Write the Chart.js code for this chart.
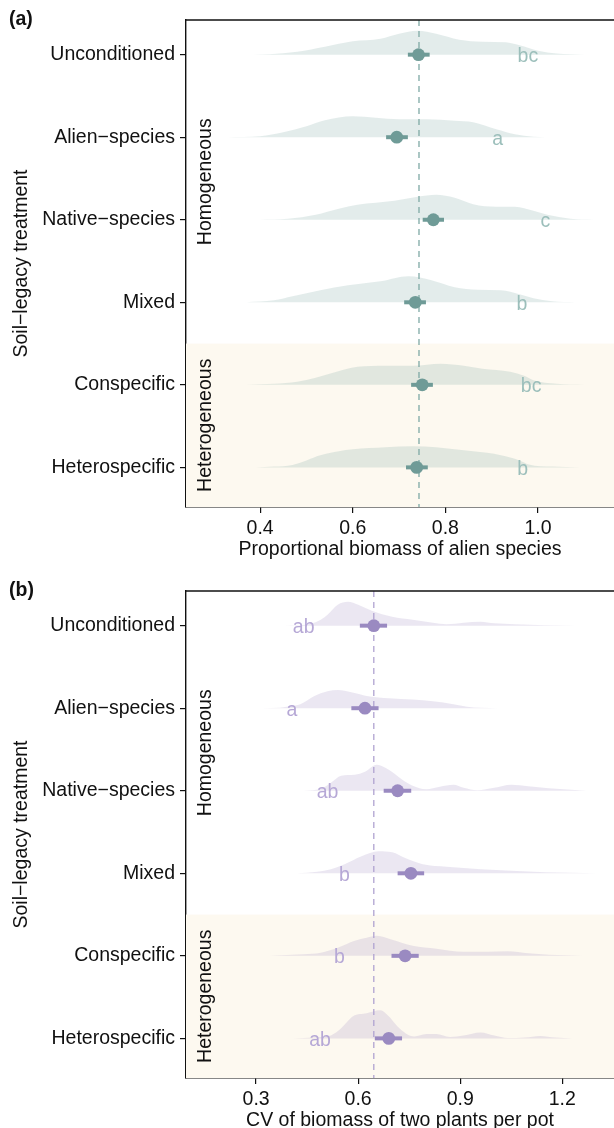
<!DOCTYPE html>
<html lang="en">
<head>
<meta charset="UTF-8">
<title>Soil-legacy treatment ridges</title>
<script src="https://cdn.jsdelivr.net/npm/chart.js"></script>
<style>
    html, body { margin: 0; padding: 0; background: #fff; overflow: hidden; }
    .wrap { position: relative; width: 614px; height: 1128px; }
    .panel { position: absolute; left: 0; width: 614px; height: 580px; }
    #panelA { top: 0; }
    #panelB { top: 571px; }
</style>
</head>
<body>
<div class="wrap">
    <canvas id="panelA" class="panel" width="614" height="580"></canvas>
    <canvas id="panelB" class="panel" width="614" height="580"></canvas>
</div>
<script>
// rows, top to bottom
const treatments = ['Unconditioned', 'Alien\u2212species', 'Native\u2212species', 'Mixed', 'Conspecific', 'Heterospecific'];
const groupNames = ['Homogeneous', 'Heterogeneous'];
const groupBreak = 3.5;   // heterogeneous rows start below this

// (a) proportional biomass of alien species
const biomassTicks = [0.4, 0.6, 0.8, 1.0];
const biomassMean = [0.742, 0.695, 0.774, 0.735, 0.750, 0.738];
const biomassLow = [0.719, 0.672, 0.751, 0.711, 0.726, 0.715];
const biomassHigh = [0.766, 0.719, 0.797, 0.758, 0.773, 0.762];
const biomassLetters = ['bc', 'a', 'c', 'b', 'bc', 'b'];
const biomassLetterAt = [0.978, 0.913, 1.016, 0.965, 0.985, 0.967];
const biomassOverall = 0.743;
const biomassDensX = [
    [0.35, 0.42, 0.48, 0.54, 0.60, 0.66, 0.70, 0.74, 0.78, 0.83, 0.88, 0.93, 0.96, 1.00, 1.04, 1.10],
    [0.33, 0.40, 0.45, 0.50, 0.54, 0.60, 0.65, 0.70, 0.76, 0.82, 0.86, 0.91, 0.95, 0.99, 1.04],
    [0.40, 0.46, 0.52, 0.57, 0.61, 0.69, 0.74, 0.78, 0.82, 0.86, 0.91, 0.95, 0.99, 1.02, 1.07, 1.12],
    [0.37, 0.43, 0.47, 0.53, 0.59, 0.66, 0.72, 0.77, 0.82, 0.87, 0.92, 0.96, 0.99, 1.03, 1.08],
    [0.37, 0.43, 0.48, 0.52, 0.55, 0.61, 0.67, 0.73, 0.79, 0.84, 0.88, 0.94, 0.97, 0.99, 1.04, 1.10],
    [0.39, 0.43, 0.47, 0.50, 0.53, 0.57, 0.60, 0.67, 0.73, 0.78, 0.84, 0.89, 0.92, 0.96, 0.98, 1.03, 1.09]
];
const biomassDens = [
    [0, 0.5, 3, 8, 13.5, 16, 21, 24, 21, 15, 13, 12.5, 9.5, 4, 1.2, 0],
    [0, 1, 5, 11, 17, 21, 19.5, 18, 18, 16.5, 15, 8, 3, 0.5, 0],
    [0, 1, 5, 11, 15, 19, 23, 25, 22, 15.5, 13, 13, 9, 5, 1, 0],
    [0, 2, 6, 12, 17, 21, 26, 22, 15, 12.5, 12, 8, 4, 1, 0],
    [0, 1, 3, 7, 11, 18, 19, 19, 21, 19, 16, 13, 9, 4.5, 1, 0],
    [0, 0.8, 2.5, 7, 12, 16, 18, 20, 21, 20, 17, 14.5, 12, 7, 3, 0.8, 0]
];

// (b) CV of biomass of two plants per pot
const cvTicks = [0.3, 0.6, 0.9, 1.2];
const cvMean = [0.646, 0.620, 0.716, 0.755, 0.738, 0.690];
const cvLow = [0.605, 0.580, 0.675, 0.716, 0.698, 0.649];
const cvHigh = [0.685, 0.660, 0.756, 0.794, 0.778, 0.729];
const cvLetters = ['ab', 'a', 'ab', 'b', 'b', 'ab'];
const cvLetterAt = [0.440, 0.405, 0.510, 0.560, 0.545, 0.488];
const cvOverall = 0.646;
const cvDensX = [
    [0.34, 0.43, 0.46, 0.49, 0.51, 0.54, 0.57, 0.60, 0.64, 0.70, 0.76, 0.82, 0.86, 0.91, 0.96, 1.00, 1.06, 1.15, 1.24],
    [0.32, 0.37, 0.40, 0.43, 0.47, 0.51, 0.54, 0.58, 0.63, 0.69, 0.76, 0.82, 0.88, 0.92, 0.96, 1.01],
    [0.44, 0.49, 0.52, 0.55, 0.59, 0.62, 0.655, 0.69, 0.73, 0.76, 0.80, 0.84, 0.88, 0.91, 0.95, 1.00, 1.05, 1.10, 1.16, 1.27],
    [0.42, 0.48, 0.52, 0.56, 0.61, 0.66, 0.70, 0.74, 0.79, 0.86, 0.96, 1.05, 1.15, 1.30],
    [0.34, 0.44, 0.49, 0.54, 0.59, 0.625, 0.655, 0.70, 0.76, 0.83, 0.91, 0.98, 1.04, 1.10, 1.16, 1.26],
    [0.41, 0.47, 0.52, 0.55, 0.585, 0.625, 0.665, 0.69, 0.715, 0.74, 0.765, 0.80, 0.83, 0.87, 0.91, 0.96, 1.00, 1.04, 1.09, 1.135, 1.18, 1.23]
];
const cvDens = [
    [0, 0.5, 2, 6, 11, 21, 24, 21, 15, 9, 6, 3, 1.5, 3, 4, 2.3, 1.5, 0.5, 0],
    [0, 0.5, 2, 4, 12, 17, 18.3, 16, 12, 10, 8.7, 7, 4, 1.5, 0.5, 0],
    [0, 2, 8, 15, 16, 19, 26, 21, 11, 5, 1.5, 4, 6, 3, 0.5, 3, 6, 4.5, 2.5, 0],
    [0, 1.5, 4, 9, 17, 22, 21, 15, 9, 6.5, 4, 2.5, 1, 0],
    [0, 1.5, 3, 8, 15, 18, 20, 16, 10, 7, 4, 4, 4.5, 2.5, 1, 0],
    [0, 1, 3, 10, 22, 25, 28, 22, 12, 5, 2, 4.5, 4.5, 1.5, 3, 6, 3, 0.5, 1, 2.5, 0.8, 0]
];

const Y_MIN = -0.42;
const Y_MAX = 5.48;
const RIDGE_SCALE = 82.5;   // density units per row
const FONT = '"Liberation Sans", Arial, Helvetica, sans-serif';
const INK = '#111';

Chart.defaults.font.family = FONT;
Chart.defaults.color = INK;

function drawPanel(id, p) {
    const decor = {
        id: 'decor',
        beforeDatasetsDraw(chart) {
            const { ctx, chartArea: a, scales: { y } } = chart;
            const top = y.getPixelForValue(groupBreak);
            ctx.save();
            ctx.fillStyle = '#fdf9f0';
            ctx.fillRect(a.left, top, a.right - a.left, a.bottom - top);
            ctx.restore();
        },
        afterDatasetsDraw(chart) {
            const { ctx, chartArea: a, scales: { x, y } } = chart;
            ctx.save();
            ctx.font = '19.5px ' + FONT;
            ctx.fillStyle = p.letterColor;
            ctx.textAlign = 'center';
            ctx.textBaseline = 'alphabetic';
            p.letters.forEach((t, i) => {
                ctx.fillText(t, x.getPixelForValue(p.letterAt[i]), y.getPixelForValue(i) + 7.5);
            });

            // group labels
            const brk = y.getPixelForValue(groupBreak);
            const centres = [(a.top + brk) / 2, (brk + a.bottom) / 2];
            ctx.fillStyle = INK;
            ctx.textBaseline = 'middle';
            groupNames.forEach((g, k) => {
                ctx.save();
                ctx.translate(a.left + 19.5, centres[k]);
                ctx.rotate(-Math.PI / 2);
                ctx.fillText(g, 0, 0);
                ctx.restore();
            });

            // top frame line
            ctx.strokeStyle = INK;
            ctx.lineWidth = 1.4;
            ctx.beginPath();
            ctx.moveTo(a.left, a.top);
            ctx.lineTo(a.right, a.top);
            ctx.stroke();

            // panel tag
            ctx.font = 'bold 19.5px ' + FONT;
            ctx.textAlign = 'left';
            ctx.textBaseline = 'alphabetic';
            ctx.fillText(p.tag, 9, 25);
            ctx.restore();
        }
    };

    const datasets = [];
    p.densX.forEach((xs, i) => {
        datasets.push({
            type: 'line',
            data: xs.map((v, k) => ({ x: v, y: i - p.dens[i][k] / RIDGE_SCALE })),
            fill: { value: i },
            backgroundColor: p.ridgeColor,
            borderWidth: 0,
            pointRadius: 0,
            cubicInterpolationMode: 'monotone',
            order: 4
        });
    });
    datasets.push({
        type: 'line',
        data: [{ x: p.overall, y: Y_MIN }, { x: p.overall, y: Y_MAX }],
        borderColor: p.dashColor,
        borderWidth: 1.3,
        borderDash: [6, 5],
        pointRadius: 0,
        fill: false,
        order: 3
    });
    p.mean.forEach((m, i) => {
        datasets.push({
            type: 'line',
            data: [{ x: p.low[i], y: i }, { x: p.high[i], y: i }],
            borderColor: p.pointColor,
            borderWidth: 4,
            borderCapStyle: 'butt',
            pointRadius: 0,
            fill: false,
            order: 2
        });
    });
    datasets.push({
        type: 'line',
        showLine: false,
        data: p.mean.map((m, i) => ({ x: m, y: i })),
        backgroundColor: p.pointColor,
        borderWidth: 0,
        pointRadius: 6.4,
        order: 1
    });

    const axisGrid = { drawOnChartArea: false, drawTicks: true, tickLength: 6, color: INK, lineWidth: 1.2 };
    const axisBorder = { display: true, color: INK, width: 1.4 };

    new Chart(document.getElementById(id), {
        type: 'line',
        data: { datasets: datasets },
        options: {
            responsive: false,
            animation: false,
            devicePixelRatio: 1,
            layout: { autoPadding: false, padding: { top: 20, right: 0, bottom: 0, left: 0 } },
            plugins: { legend: { display: false }, tooltip: { enabled: false } },
            scales: {
                x: {
                    type: 'linear',
                    min: p.xMin,
                    max: p.xMax,
                    afterBuildTicks: s => { s.ticks = p.ticks.map(v => ({ value: v })); },
                    afterFit: s => {
                        s.height = 73;
                        s.paddingLeft = 0;
                        s.paddingRight = 0;
                    },
                    ticks: {
                        callback: v => v.toFixed(1),
                        font: { size: 19.5, lineHeight: 1.2 },
                        color: INK,
                        padding: 3.6,
                        autoSkip: false,
                        maxRotation: 0
                    },
                    grid: axisGrid,
                    border: axisBorder,
                    title: {
                        display: true,
                        text: p.xTitle,
                        font: { size: 19.5, lineHeight: 1.2 },
                        color: INK,
                        padding: { top: 0, bottom: 18.3 }
                    }
                },
                y: {
                    type: 'linear',
                    reverse: true,
                    min: Y_MIN,
                    max: Y_MAX,
                    afterBuildTicks: s => { s.ticks = treatments.map((t, i) => ({ value: i })); },
                    afterFit: s => {
                        s.width = 186;
                        s.paddingTop = 0;
                        s.paddingBottom = 0;
                    },
                    ticks: {
                        callback: v => treatments[v],
                        font: { size: 19.5 },
                        color: INK,
                        padding: 5,
                        autoSkip: false
                    },
                    grid: axisGrid,
                    border: axisBorder,
                    title: {
                        display: true,
                        text: 'Soil\u2212legacy treatment',
                        font: { size: 19.5, lineHeight: 1.2 },
                        color: INK,
                        padding: { top: 10, bottom: 0 }
                    }
                }
            }
        },
        plugins: [decor]
    });
}

drawPanel('panelA', {
    tag: '(a)',
    xTitle: 'Proportional biomass of alien species',
    xMin: 0.24, xMax: 1.164, ticks: biomassTicks,
    mean: biomassMean, low: biomassLow, high: biomassHigh,
    letters: biomassLetters, letterAt: biomassLetterAt,
    overall: biomassOverall, densX: biomassDensX, dens: biomassDens,
    ridgeColor: 'rgba(140, 175, 170, 0.24)',
    pointColor: '#6f9b97',
    letterColor: '#9cbfbb',
    dashColor: '#7fa9a5'
});

drawPanel('panelB', {
    tag: '(b)',
    xTitle: 'CV of biomass of two plants per pot',
    xMin: 0.094, xMax: 1.352, ticks: cvTicks,
    mean: cvMean, low: cvLow, high: cvHigh,
    letters: cvLetters, letterAt: cvLetterAt,
    overall: cvOverall, densX: cvDensX, dens: cvDens,
    ridgeColor: 'rgba(165, 145, 195, 0.22)',
    pointColor: '#9a8ac1',
    letterColor: '#b6a8d6',
    dashColor: '#b0a3d0'
});
</script>
</body>
</html>
